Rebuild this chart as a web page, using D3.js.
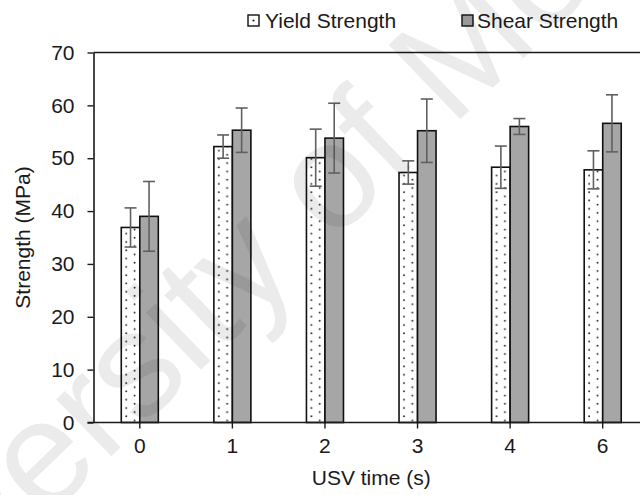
<!DOCTYPE html>
<html>
<head>
<meta charset="utf-8">
<script src="https://cdn.jsdelivr.net/npm/d3@7"></script>
<style>
  html, body { margin: 0; padding: 0; background: #fff; }
  svg { display: block; }
  text { font-family: Arial, "Liberation Sans", sans-serif; fill: #1a1a1a; }
</style>
</head>
<body>
<svg id="chart" width="640" height="495"></svg>
<script>
// USV time categories and measured strengths (MPa) with standard deviations
const categories = ["0", "1", "2", "3", "4", "6"];
const yieldMean  = [36.9, 52.2, 50.1, 47.3, 48.3, 47.8];
const yieldErr   = [3.7, 2.2, 5.4, 2.2, 4.0, 3.6];
const shearMean  = [39.0, 55.3, 53.8, 55.2, 56.0, 56.6];
const shearErr   = [6.6, 4.2, 6.6, 6.0, 1.5, 5.4];
const yTicks     = [0, 10, 20, 30, 40, 50, 60, 70];
const seriesNames = ["Yield Strength", "Shear Strength"];

const svg = d3.select("#chart");
const W = 640, H = 495;
const plot = { left: 93.5, right: 649, top: 52.5, bottom: 422.5 };

const x = d3.scaleBand().domain(categories).range([plot.left, plot.right]).padding(0);
const y = d3.scaleLinear().domain([0, 70]).range([plot.bottom, plot.top]);
const barW = x.bandwidth() * 0.2;

const defs = svg.append("defs");

const rows = categories.map((c, i) => ({
  cat: c,
  ym: yieldMean[i], ye: yieldErr[i],
  sm: shearMean[i], se: shearErr[i]
}));

// plot frame: top border line
svg.append("line")
  .attr("x1", plot.left).attr("x2", W + 5)
  .attr("y1", y(70)).attr("y2", y(70))
  .attr("stroke", "#1a1a1a").attr("stroke-width", 1.6);

// y axis
const yAxis = svg.append("g")
  .attr("transform", `translate(${plot.left},0)`)
  .call(d3.axisLeft(y).tickValues(yTicks).tickSize(6).tickPadding(8).tickSizeOuter(0));
yAxis.select(".domain").attr("stroke", "#1a1a1a").attr("stroke-width", 1.6);
yAxis.selectAll(".tick line").attr("stroke", "#1a1a1a").attr("stroke-width", 1.4);
yAxis.selectAll(".tick text")
  .attr("font-size", 21).attr("fill", "#1a1a1a")
  .attr("x", -19);

// bars
const g = svg.append("g");
rows.forEach((d, i) => {
  const cx = x(d.cat) + x.bandwidth() / 2;
  // sparse dotted fill, aligned to each yield bar
  const pid = "dots" + i;
  const p = defs.append("pattern")
    .attr("id", pid)
    .attr("patternUnits", "userSpaceOnUse")
    .attr("x", cx - barW).attr("y", plot.bottom)
    .attr("width", 16.6).attr("height", 8.3);
  p.append("rect").attr("width", 16.6).attr("height", 8.3).attr("fill", "#fff");
  p.append("circle").attr("cx", 5).attr("cy", 2).attr("r", 0.95).attr("fill", "#222");
  p.append("circle").attr("cx", 13.3).attr("cy", 6.15).attr("r", 0.95).attr("fill", "#222");

  g.append("rect")
    .attr("x", cx - barW).attr("y", y(d.ym))
    .attr("width", barW).attr("height", y(0) - y(d.ym))
    .attr("fill", `url(#${pid})`)
    .attr("stroke", "#111").attr("stroke-width", 1.6);
  g.append("rect")
    .attr("x", cx).attr("y", y(d.sm))
    .attr("width", barW).attr("height", y(0) - y(d.sm))
    .attr("fill", "#a6a6a6")
    .attr("stroke", "#111").attr("stroke-width", 1.6);
});

// error bars
const errs = [];
rows.forEach(d => {
  const cx = x(d.cat) + x.bandwidth() / 2;
  errs.push({ cx: cx - barW / 2, m: d.ym, e: d.ye });
  errs.push({ cx: cx + barW / 2, m: d.sm, e: d.se });
});
const eg = svg.append("g").attr("stroke", "#606060").attr("stroke-width", 1.6);
errs.forEach(d => {
  eg.append("line").attr("x1", d.cx).attr("x2", d.cx)
    .attr("y1", y(d.m + d.e)).attr("y2", y(d.m - d.e));
  eg.append("line").attr("x1", d.cx - 6).attr("x2", d.cx + 6)
    .attr("y1", y(d.m + d.e)).attr("y2", y(d.m + d.e));
  eg.append("line").attr("x1", d.cx - 6).attr("x2", d.cx + 6)
    .attr("y1", y(d.m - d.e)).attr("y2", y(d.m - d.e));
});

// x axis
const xAxis = svg.append("g")
  .attr("transform", `translate(0,${plot.bottom})`)
  .call(d3.axisBottom(x).tickSize(6).tickPadding(10).tickSizeOuter(0));
xAxis.select(".domain").attr("stroke", "#1a1a1a").attr("stroke-width", 1.6)
  .attr("d", `M${plot.left - 6},0H${W + 5}`);
xAxis.selectAll(".tick line").attr("stroke", "#1a1a1a").attr("stroke-width", 1.4);
xAxis.selectAll(".tick text").attr("font-size", 21).attr("fill", "#1a1a1a");

// axis titles
svg.append("text")
  .attr("x", (plot.left + plot.right) / 2).attr("y", 485)
  .attr("text-anchor", "middle").attr("font-size", 21)
  .text("USV time (s)");
svg.append("text")
  .attr("transform", `translate(30,${(plot.top + plot.bottom) / 2}) rotate(-90)`)
  .attr("text-anchor", "middle").attr("font-size", 21)
  .text("Strength (MPa)");

// legend
const legend = svg.append("g");
const legendItems = [
  { name: seriesNames[0], bx: 248, tx: 265, fill: "#fff", dot: true },
  { name: seriesNames[1], bx: 462, tx: 477, fill: "#a6a6a6", dot: false }
];
legendItems.forEach(it => {
  legend.append("rect")
    .attr("x", it.bx).attr("y", 15).attr("width", 11).attr("height", 11)
    .attr("fill", it.fill).attr("stroke", "#111").attr("stroke-width", 1.4);
  if (it.dot) {
    legend.append("circle").attr("cx", it.bx + 5.5).attr("cy", 20.5)
      .attr("r", 1.1).attr("fill", "#222");
  }
  legend.append("text")
    .attr("x", it.tx).attr("y", 27.5).attr("font-size", 21)
    .text(it.name);
});

// institutional watermark across the figure
svg.append("text")
  .attr("transform", "translate(-172,730) rotate(-44)")
  .attr("font-size", 150)
  .style("fill", "#000")
  .attr("fill-opacity", 0.08)
  .text("University of Moratuwa");
</script>
</body>
</html>
